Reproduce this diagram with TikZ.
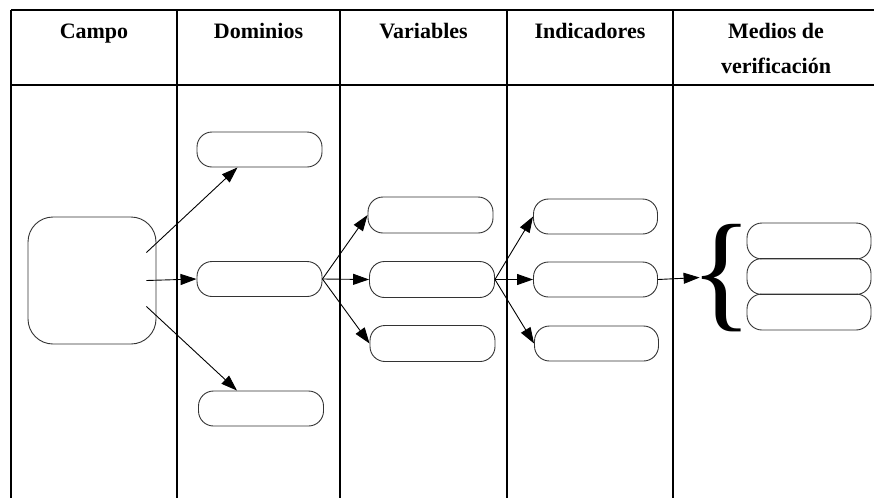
\documentclass[tikz,border=0pt]{standalone}
\usepackage{fontspec}
\setmainfont{Liberation Serif}
\usetikzlibrary{arrows.meta}

\begin{document}
\begin{tikzpicture}[x=1pt,y=-1pt,
    box/.style={draw=black!80,line width=0.9pt,rounded corners=15pt,minimum width=125pt,minimum height=35pt,inner sep=0pt},
    head/.style={font=\bfseries\fontsize{22}{35}\selectfont,align=center,anchor=north},
    arr/.style={-{Triangle[length=16pt,width=11pt]},line width=0.9pt}]

    \useasboundingbox (0,0) rectangle (874,498);

    % Draw the table
    \draw[line width=1.5pt] (11,10) -- (874,10);
    \draw[line width=1.5pt] (11,85) -- (874,85);
    \foreach \x in {11,177,340,507,673}
        \draw[line width=1.5pt] (\x,10) -- (\x,498);

    % Column titles
    \node[head] (hcampo) at (94,20) {Campo};
    \node[head] (hdom) at (258.5,20) {Dominios};
    \node[head] (hvar) at (423.5,20) {Variables};
    \node[head] (hind) at (590,20) {Indicadores};
    \node[head] (hmed) at (776,20) {Medios de\\verificación};

    % Boxes
    \node[box,minimum width=128pt,minimum height=127pt,rounded corners=25pt] (campo) at (92,280.5) {};
    \node[box] (dom1) at (259.5,149.5) {};
    \node[box] (dom2) at (259.5,279) {};
    \node[box] (dom3) at (261,408.5) {};
    \node[box,minimum height=36pt] (var1) at (430.5,215) {};
    \node[box,minimum height=36pt] (var2) at (432,279.5) {};
    \node[box,minimum height=36pt] (var3) at (432.5,343.5) {};
    \node[box,minimum width=124pt] (ind1) at (595.5,216.5) {};
    \node[box,minimum width=124pt] (ind2) at (595.5,279.5) {};
    \node[box,minimum width=124pt] (ind3) at (596.5,343.5) {};
    \node[inner sep=0pt,font=\fontsize{130}{130}\selectfont] (brace) at (722,278.5) {\{};
    \foreach \i/\y in {1/241,2/276.5,3/312}
        \node[box,minimum width=124pt,minimum height=36pt] (med\i) at (809,\y) {};

    % Arrows
    \draw[arr] ([xshift=-10pt,yshift=28pt]campo.east) -- ([xshift=-22pt]dom1.south);
    \draw[arr] ([xshift=-10pt]campo.east) -- (dom2.west);
    \draw[arr] ([xshift=-10pt,yshift=-26pt]campo.east) -- ([xshift=-24pt]dom3.north);
    \foreach \i in {1,2,3} {
        \draw[arr] (dom2.east) -- (var\i.west);
        \draw[arr] (var2.east) -- (ind\i.west);
    }
    \draw[arr] (ind2.east) -- ([xshift=9pt,yshift=1pt]brace.west);

\end{tikzpicture}
\end{document}
